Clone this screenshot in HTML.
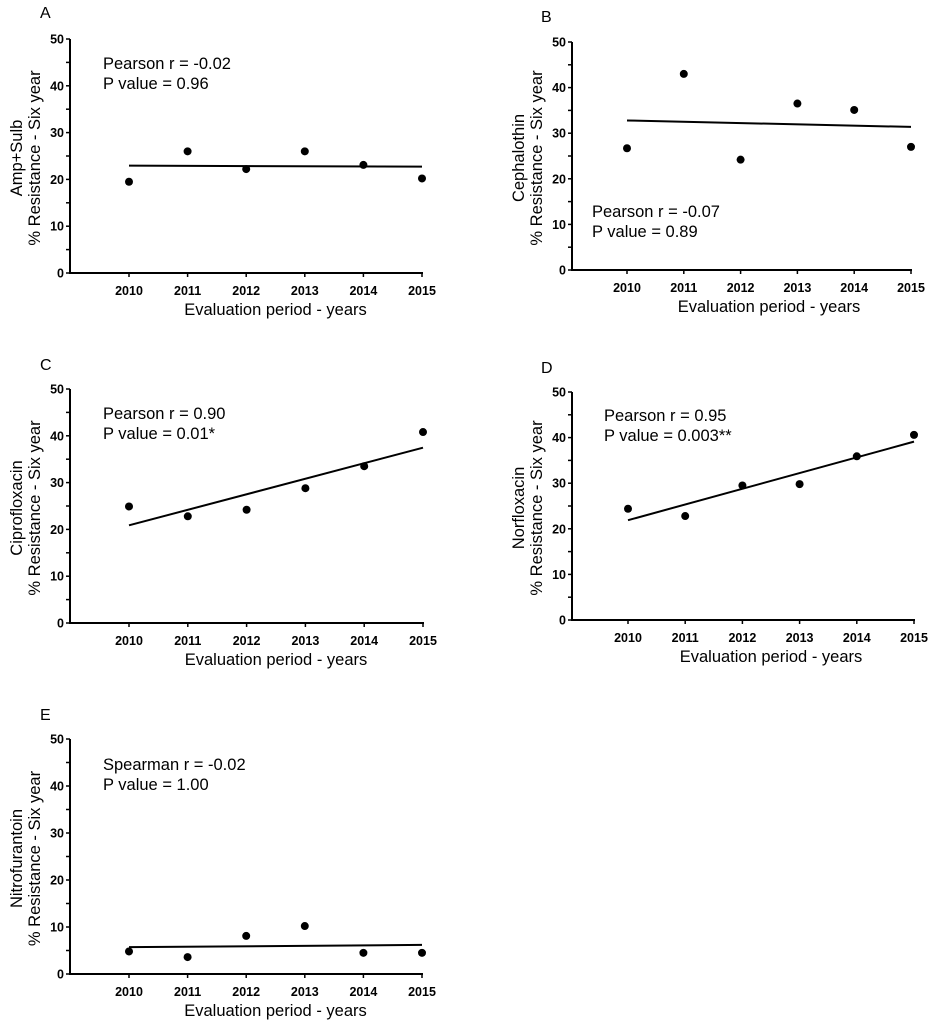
<!DOCTYPE html>
<html><head><meta charset="utf-8"><style>
body{margin:0;background:#fff;}
svg{display:block;font-family:"Liberation Sans",Arial,sans-serif;}
</style></head><body>
<svg id="fig" width="930" height="1024" viewBox="0 0 930 1024"></svg>
<script>
const years = [2010, 2011, 2012, 2013, 2014, 2015];
const yTicks = [0, 10, 20, 30, 40, 50];
const ampSulb = [19.5, 26.0, 22.2, 26.0, 23.1, 20.2];
const cephalothin = [26.7, 43.0, 24.2, 36.5, 35.1, 27.0];
const ciprofloxacin = [24.9, 22.8, 24.2, 28.8, 33.5, 40.8];
const norfloxacin = [24.4, 22.8, 29.5, 29.8, 35.9, 40.6];
const nitrofurantoin = [4.8, 3.6, 8.1, 10.2, 4.5, 4.5];
const panelLetters = ["A", "B", "C", "D", "E"];
const drugNames = ["Amp+Sulb", "Cephalothin", "Ciprofloxacin", "Norfloxacin", "Nitrofurantoin"];
const statLines1 = ["Pearson r = -0.02", "Pearson r = -0.07", "Pearson r = 0.90", "Pearson r = 0.95", "Spearman r = -0.02"];
const statLines2 = ["P value = 0.96", "P value = 0.89", "P value = 0.01*", "P value = 0.003**", "P value = 1.00"];
const series = [ampSulb, cephalothin, ciprofloxacin, norfloxacin, nitrofurantoin];

// layout (not data)
const layouts = [
  {ax:70, x0:129, x1:422, y0:273, y50:39, lx:40, ly:18, sx:103, sy:69},
  {ax:572, x0:627, x1:911, y0:270, y50:42, lx:541, ly:22, sx:592, sy:217},
  {ax:70, x0:129, x1:423, y0:623, y50:389, lx:40, ly:370, sx:103, sy:419},
  {ax:572, x0:628, x1:914, y0:620, y50:392, lx:541, ly:373, sx:604, sy:421},
  {ax:70, x0:129, x1:422, y0:974, y50:739, lx:40, ly:720, sx:103, sy:770}
];
const svg = document.getElementById('fig');
const NS = 'http://www.w3.org/2000/svg';
function mk(tag, attrs, parent, text){
  const e = document.createElementNS(NS, tag);
  for (const k in attrs) e.setAttribute(k, attrs[k]);
  if (text !== undefined) e.textContent = text;
  parent.appendChild(e); return e;
}
series.forEach((vals, p) => {
  const L = layouts[p];
  const g = mk('g', {}, svg);
  
  
  const xs = i => L.x0 + (L.x1 - L.x0) * (years[i] - years[0]) / (years[years.length-1] - years[0]);
  const ys = v => L.y0 - (L.y0 - L.y50) * v / 50;
  const lab = mk('text', {x:L.lx, y:L.ly, 'font-size':16}, g, panelLetters[p]);
  
  
  const ya = mk('line', {x1:L.ax, y1:L.y50, x2:L.ax, y2:L.y0+1, stroke:'#000','stroke-width':2}, g);
  
  
  const xa = mk('line', {x1:L.ax-1, y1:L.y0, x2:L.x1+1, y2:L.y0, stroke:'#000','stroke-width':2}, g);
  
  
  for (let v = 0; v <= 50; v += 5) {
    mk('line', {x1:L.ax-4, y1:ys(v), x2:L.ax, y2:ys(v), stroke:'#000','stroke-width':1.5}, g);
  }
  yTicks.forEach(v => {
    const t = mk('text', {x:L.ax-6, y:ys(v)+4.5, 'font-size':12.5, 'font-weight':'bold', 'text-anchor':'end'}, g, v);
    
    
  });
  years.forEach((yr, i) => {
    mk('line', {x1:xs(i), y1:L.y0, x2:xs(i), y2:L.y0+4, stroke:'#000','stroke-width':1.5}, g);
    const t = mk('text', {x:xs(i), y:L.y0+22, 'font-size':12.5, 'font-weight':'bold', 'text-anchor':'middle'}, g, yr);
    
    
  });
  const xt = mk('text', {x:(L.x0+L.x1)/2, y:L.y0+42, 'font-size':16.5, 'text-anchor':'middle'}, g, 'Evaluation period - years');
  
  
  const cy = (L.y0 + L.y50) / 2 + 2;
  const yt1 = mk('text', {x:0, y:0, 'font-size':16.5, 'text-anchor':'middle', transform:`translate(${L.ax-48},${cy}) rotate(-90)`}, g, drugNames[p]);
  
  
  const yt2 = mk('text', {x:0, y:0, 'font-size':16.5, 'text-anchor':'middle', transform:`translate(${L.ax-30},${cy}) rotate(-90)`}, g, '% Resistance - Six year');
  
  
  const s1 = mk('text', {x:L.sx, y:L.sy, 'font-size':16.5}, g, statLines1[p]);
  
  
  const s2 = mk('text', {x:L.sx, y:L.sy+20, 'font-size':16.5}, g, statLines2[p]);
  
  
  // regression
  const n = vals.length;
  const mx = years.reduce((a,b)=>a+b,0)/n, my = vals.reduce((a,b)=>a+b,0)/n;
  let sxy = 0, sxx = 0;
  years.forEach((yr,i)=>{ sxy += (yr-mx)*(vals[i]-my); sxx += (yr-mx)*(yr-mx); });
  const slope = sxy/sxx;
  const fit = yr => my + slope*(yr-mx);
  const rl = mk('line', {x1:xs(0), y1:ys(fit(years[0])), x2:xs(n-1), y2:ys(fit(years[n-1])), stroke:'#000','stroke-width':2}, g);
  
  
  vals.forEach((v,i) => {
    const c = mk('circle', {cx:xs(i), cy:ys(v), r:4, fill:'#000'}, g);
    
    
  });
});
</script>
</body></html>
